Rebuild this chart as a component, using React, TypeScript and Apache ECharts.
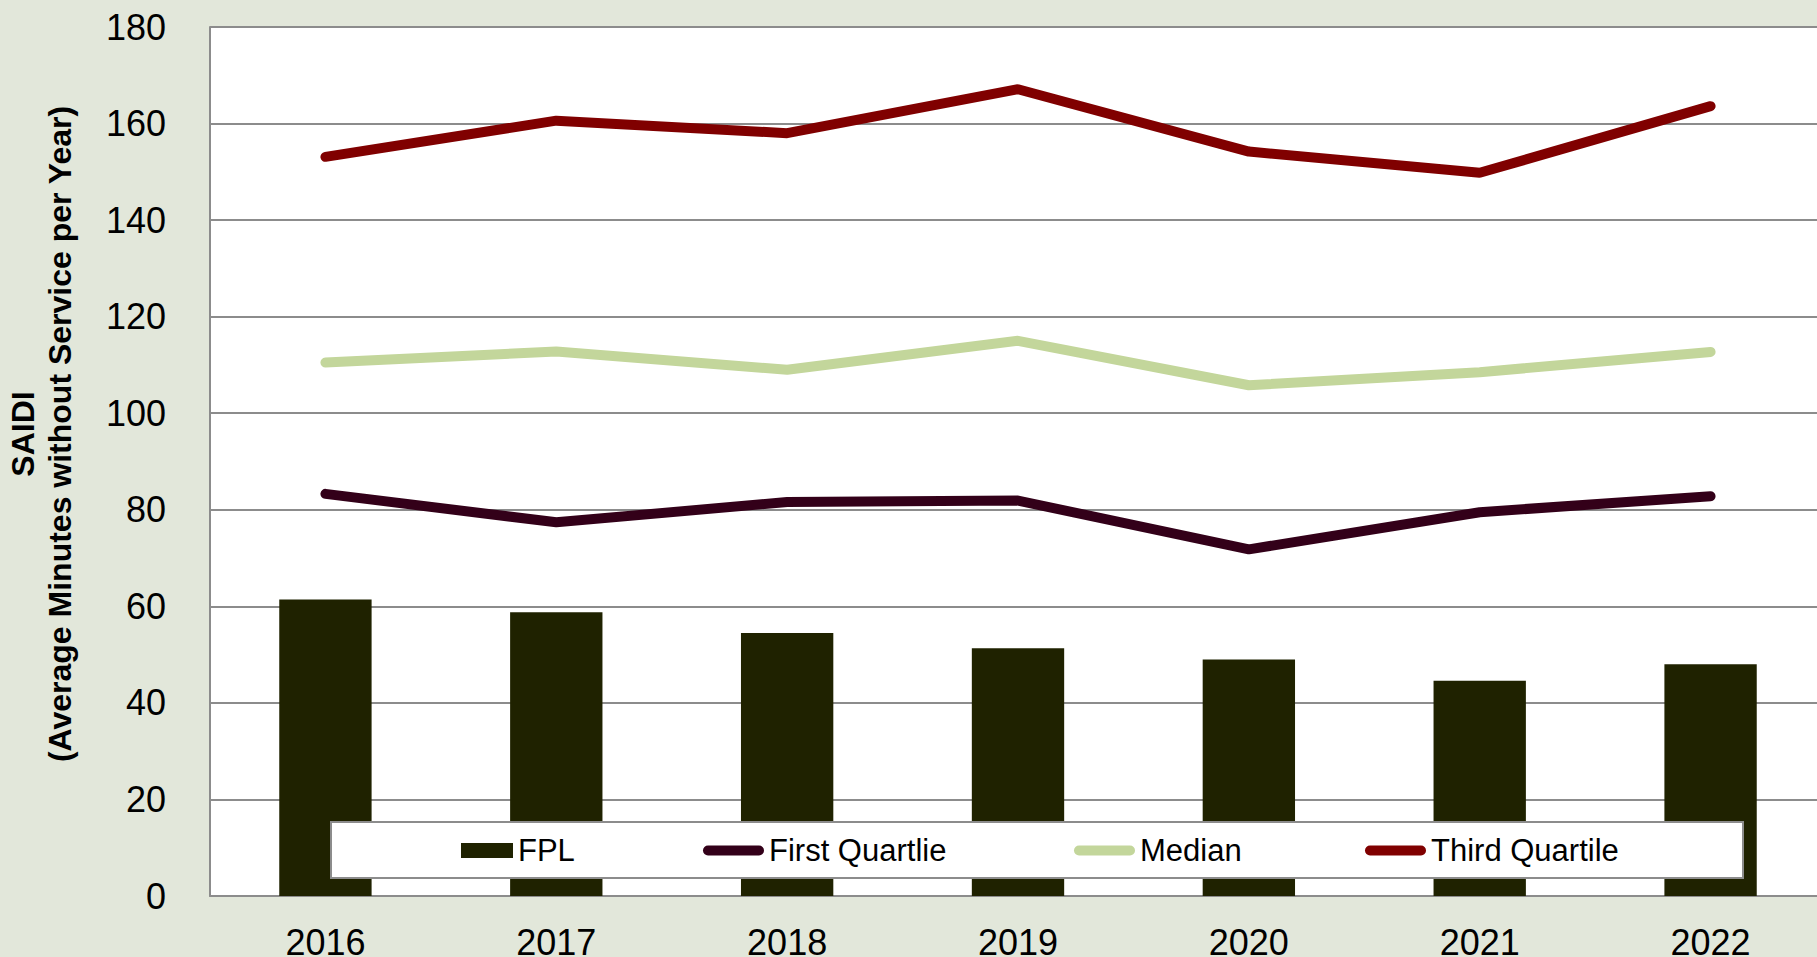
import React, { useEffect, useRef } from "react";
import * as echarts from "echarts";

const categories = ["2016", "2017", "2018", "2019", "2020", "2021", "2022"];
const fpl = [61.4, 58.8, 54.5, 51.3, 49.0, 44.6, 48.0];
const firstQuartile = [83.3, 77.4, 81.6, 81.9, 71.8, 79.5, 82.8];
const median = [110.5, 112.8, 109.0, 115.0, 105.8, 108.5, 112.7];
const thirdQuartile = [153.1, 160.6, 158.0, 167.1, 154.2, 149.8, 163.6];
const yTicks = { min: 0, max: 180, interval: 20 };

const FONT = "'Liberation Sans', Arial, sans-serif";
const COLORS = {
  fpl: "#1F2200",
  first: "#330019",
  median: "#C3D69B",
  third: "#800000",
};
const ROUND_ICON = "path://M5,0 L56,0 A5,5 0 0 1 56,10 L5,10 A5,5 0 0 1 5,0 Z";

export default function App() {
  const ref = useRef<HTMLDivElement>(null);
  useEffect(() => {
    if (!ref.current) return;
    const chart = echarts.init(ref.current, null, { renderer: "svg" });
    const legendBase = {
      top: 835,
      padding: 0,
      z: 200,
      selectedMode: false,
      textStyle: { fontSize: 31, color: "#000", fontFamily: FONT, lineHeight: 30 },
    };
    chart.setOption({
      animation: false,
      backgroundColor: "#E2E7DA",
      grid: {
        left: 210,
        top: 27,
        width: 1616,
        height: 869,
        outerBoundsMode: "none",
        containLabel: false,
        show: true,
        backgroundColor: "#FFFFFF",
        borderWidth: 0,
      },
      xAxis: {
        type: "category",
        data: categories,
        axisLine: { show: true, lineStyle: { color: "#8C8C8C", width: 2 } },
        axisTick: { show: false },
        axisLabel: { fontSize: 36, color: "#000", fontFamily: FONT, margin: 28 },
        splitLine: { show: false },
      },
      yAxis: {
        type: "value",
        min: yTicks.min,
        max: yTicks.max,
        interval: yTicks.interval,
        axisLine: { show: true, lineStyle: { color: "#8C8C8C", width: 2 } },
        axisTick: { show: false },
        axisLabel: { fontSize: 36, color: "#000", fontFamily: FONT, margin: 44 },
        splitLine: { show: true, lineStyle: { color: "#8C8C8C", width: 2 } },
      },
      legend: [
        {
          ...legendBase,
          left: 461,
          itemWidth: 52,
          itemHeight: 15,
          data: [{ name: "FPL", icon: "rect", itemStyle: { color: COLORS.fpl } }],
        },
        {
          ...legendBase,
          left: 703,
          itemWidth: 61,
          itemHeight: 10,
          data: [
            { name: "First Quartlie", icon: ROUND_ICON, itemStyle: { color: COLORS.first, borderWidth: 0 } },
          ],
        },
        {
          ...legendBase,
          left: 1074,
          itemWidth: 61,
          itemHeight: 10,
          data: [{ name: "Median", icon: ROUND_ICON, itemStyle: { color: COLORS.median, borderWidth: 0 } }],
        },
        {
          ...legendBase,
          left: 1365,
          itemWidth: 61,
          itemHeight: 10,
          data: [
            { name: "Third Quartile", icon: ROUND_ICON, itemStyle: { color: COLORS.third, borderWidth: 0 } },
          ],
        },
      ],
      graphic: {
        elements: [
          {
            type: "rect",
            x: 331,
            y: 822,
            z: 100,
            shape: { x: 0, y: 0, width: 1412, height: 56 },
            style: { fill: "#FFFFFF", stroke: "#8C8C8C", lineWidth: 2 },
          },
          {
            type: "text",
            x: 41,
            y: 434,
            rotation: Math.PI / 2,
            z: 100,
            style: {
              text: "SAIDI\n(Average Minutes without Service per Year)",
              font: `bold 32px ${FONT}`,
              fill: "#000",
              textAlign: "center",
              textVerticalAlign: "middle",
              lineHeight: 37,
            },
          },
        ],
      },
      series: [
        {
          name: "FPL",
          type: "bar",
          data: fpl,
          barWidth: "40%",
          itemStyle: { color: COLORS.fpl },
          z: 2,
        },
        {
          name: "First Quartlie",
          type: "line",
          data: firstQuartile,
          symbol: "none",
          color: COLORS.first,
          itemStyle: { color: COLORS.first },
          lineStyle: { color: COLORS.first, width: 10, cap: "round" },
          z: 3,
        },
        {
          name: "Median",
          type: "line",
          data: median,
          symbol: "none",
          color: COLORS.median,
          itemStyle: { color: COLORS.median },
          lineStyle: { color: COLORS.median, width: 10, cap: "round" },
          z: 3,
        },
        {
          name: "Third Quartile",
          type: "line",
          data: thirdQuartile,
          symbol: "none",
          color: COLORS.third,
          itemStyle: { color: COLORS.third },
          lineStyle: { color: COLORS.third, width: 10, cap: "round" },
          z: 3,
        },
      ],
    });
    return () => chart.dispose();
  }, []);
  return (
    <div
      ref={ref}
      style={{ position: "fixed", left: 0, top: 0, width: 1817, height: 957 }}
    />
  );
}
